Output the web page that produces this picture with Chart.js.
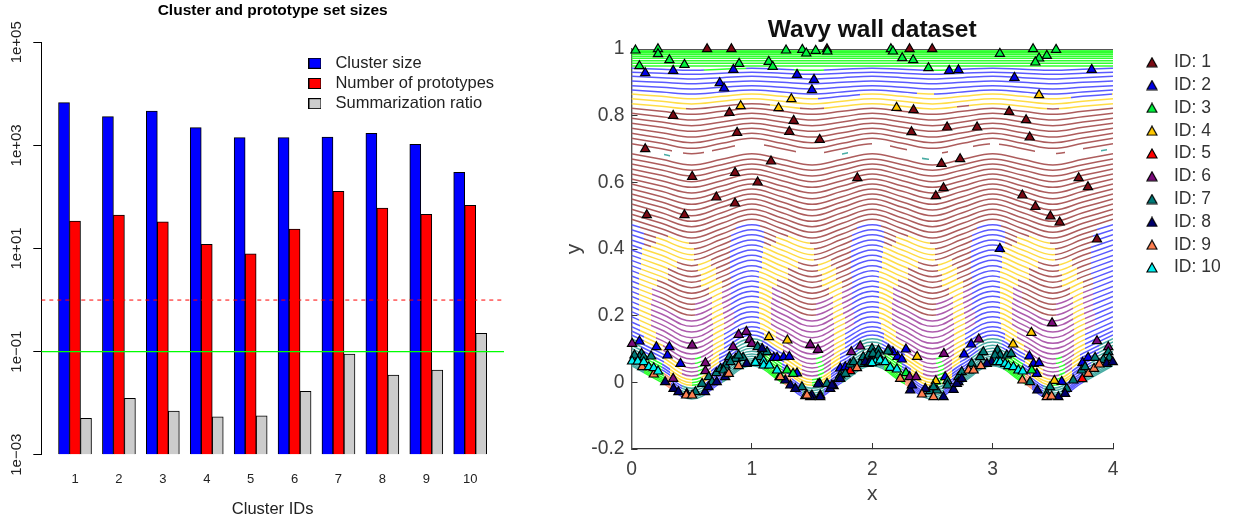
<!DOCTYPE html>
<html><head><meta charset="utf-8">
<script src="https://cdn.jsdelivr.net/npm/chart.js@4"></script>
<style>html,body{margin:0;padding:0;background:#fff;width:1233px;height:525px;overflow:hidden}
canvas{position:absolute;top:0}</style></head><body>
<canvas id="sizes" width="520" height="525" style="left:0"></canvas>
<canvas id="wavy" width="693" height="525" style="left:540px"></canvas>
<script>
// ---- left panel values
const clusterIds=[1,2,3,4,5,6,7,8,9,10];
const clusterSize=[6745,3612,4652,2208,1413,1413,1455,1714,1050,300];
const prototypes=[34,44.6,33,12,7.9,23.9,128,61,46,68.7];
const summarization=[0.00506,0.01236,0.00701,0.00545,0.0057,0.0169,0.0895,0.0351,0.0439,0.2254];
const barNames=["Cluster size","Number of prototypes","Summarization ratio"];
const barColours=["#0000ff","#ff0000","#cccccc"];
const logTicks=[0.001,0.1,10,1000,100000];
const logTickLabels=["1e\u221203","1e\u221201","1e+01","1e+03","1e+05"];
const dashedLevel=1, solidLevel=0.1;

// ---- right panel: contour rows read at x = 0, .25 ... 4
const rowX=[0,.25,.5,.75,1,1.25,1.5,1.75,2,2.25,2.5,2.75,3,3.25,3.5,3.75,4];
const flatRows=[1,.997,.993,.989,.984,.978,.972,.965,.957,.949];
const wavyRows=[
[.942,.939,.936,.939,.942,.939,.936,.939,.942,.939,.936,.939,.942,.939,.936,.939,.942],
[.93,.927,.924,.927,.93,.927,.924,.927,.93,.927,.924,.927,.93,.927,.924,.927,.93],
[.918,.914,.91,.914,.918,.914,.91,.914,.918,.914,.91,.914,.918,.914,.91,.914,.918],
[.904,.9,.896,.9,.904,.9,.896,.9,.904,.9,.896,.9,.904,.9,.896,.9,.904],
[.89,.885,.88,.885,.89,.885,.88,.885,.89,.885,.88,.885,.89,.885,.88,.885,.89],
[.877,.871,.865,.871,.877,.871,.865,.871,.877,.871,.865,.871,.877,.871,.865,.871,.877],
[.865,.858,.851,.858,.865,.858,.851,.858,.865,.858,.851,.858,.865,.858,.851,.858,.865],
[.851,.843,.835,.843,.851,.843,.835,.843,.851,.843,.835,.843,.851,.843,.835,.843,.851],
[.836,.828,.82,.828,.836,.828,.82,.828,.836,.828,.82,.828,.836,.828,.82,.828,.836],
[.822,.813,.804,.813,.822,.813,.804,.813,.822,.813,.804,.813,.822,.813,.804,.813,.822],
[.807,.797,.787,.797,.807,.797,.787,.797,.807,.797,.787,.797,.807,.797,.787,.797,.807],
[.792,.781,.77,.781,.792,.781,.77,.781,.792,.781,.77,.781,.792,.781,.77,.781,.792],
[.777,.765,.753,.765,.777,.765,.753,.765,.777,.765,.753,.765,.777,.765,.753,.765,.777],
[.762,.749,.736,.749,.762,.749,.736,.749,.762,.749,.736,.749,.762,.749,.736,.749,.762],
[.747,.733,.719,.733,.747,.733,.719,.733,.747,.733,.719,.733,.747,.733,.719,.733,.747],
[.732,.717,.702,.717,.732,.717,.702,.717,.732,.717,.702,.717,.732,.717,.702,.717,.732],
[.716,.701,.686,.701,.716,.701,.686,.701,.716,.701,.686,.701,.716,.701,.686,.701,.716],
[.701,.685,.669,.685,.701,.685,.669,.685,.701,.685,.669,.685,.701,.685,.669,.685,.701],
[.686,.669,.652,.669,.686,.669,.652,.669,.686,.669,.652,.669,.686,.669,.652,.669,.686],
[.67,.653,.636,.653,.67,.653,.636,.653,.67,.653,.636,.653,.67,.653,.636,.653,.67],
[.655,.637,.619,.637,.655,.637,.619,.637,.655,.637,.619,.637,.655,.637,.619,.637,.655],
[.64,.621,.602,.621,.64,.621,.602,.621,.64,.621,.602,.621,.64,.621,.602,.621,.64],
[.625,.605,.585,.605,.625,.605,.585,.605,.625,.605,.585,.605,.625,.605,.585,.605,.625],
[.61,.589,.568,.589,.61,.589,.568,.589,.61,.589,.568,.589,.61,.589,.568,.589,.61],
[.595,.573,.551,.573,.595,.573,.551,.573,.595,.573,.551,.573,.595,.573,.551,.573,.595],
[.58,.557,.534,.557,.58,.557,.534,.557,.58,.557,.534,.557,.58,.557,.534,.557,.58],
[.565,.541,.517,.541,.565,.541,.517,.541,.565,.541,.517,.541,.565,.541,.517,.541,.565],
[.55,.525,.5,.525,.55,.525,.5,.525,.55,.525,.5,.525,.55,.525,.5,.525,.55],
[.535,.509,.483,.509,.535,.509,.483,.509,.535,.509,.483,.509,.535,.509,.483,.509,.535],
[.519,.493,.467,.493,.519,.493,.467,.493,.519,.493,.467,.493,.519,.493,.467,.493,.519],
[.504,.477,.45,.477,.504,.477,.45,.477,.504,.477,.45,.477,.504,.477,.45,.477,.504],
[.489,.461,.433,.461,.489,.461,.433,.461,.489,.461,.433,.461,.489,.461,.433,.461,.489],
[.473,.445,.417,.445,.473,.445,.417,.445,.473,.445,.417,.445,.473,.445,.417,.445,.473],
[.458,.429,.4,.429,.458,.429,.4,.429,.458,.429,.4,.429,.458,.429,.4,.429,.458],
[.443,.413,.383,.413,.443,.413,.383,.413,.443,.413,.383,.413,.443,.413,.383,.413,.443],
[.427,.397,.367,.397,.427,.397,.367,.397,.427,.397,.367,.397,.427,.397,.367,.397,.427],
[.412,.381,.35,.381,.412,.381,.35,.381,.412,.381,.35,.381,.412,.381,.35,.381,.412],
[.397,.365,.333,.365,.397,.365,.333,.365,.397,.365,.333,.365,.397,.365,.333,.365,.397],
[.381,.349,.317,.349,.381,.349,.317,.349,.381,.349,.317,.349,.381,.349,.317,.349,.381],
[.366,.333,.3,.333,.366,.333,.3,.333,.366,.333,.3,.333,.366,.333,.3,.333,.366],
[.35,.317,.284,.317,.35,.317,.284,.317,.35,.317,.284,.317,.35,.317,.284,.317,.35],
[.335,.301,.267,.301,.335,.301,.267,.301,.335,.301,.267,.301,.335,.301,.267,.301,.335],
[.319,.285,.251,.285,.319,.285,.251,.285,.319,.285,.251,.285,.319,.285,.251,.285,.319],
[.304,.269,.234,.269,.304,.269,.234,.269,.304,.269,.234,.269,.304,.269,.234,.269,.304],
[.288,.253,.218,.253,.288,.253,.218,.253,.288,.253,.218,.253,.288,.253,.218,.253,.288],
[.273,.237,.201,.237,.273,.237,.201,.237,.273,.237,.201,.237,.273,.237,.201,.237,.273],
[.258,.221,.184,.221,.258,.221,.184,.221,.258,.221,.184,.221,.258,.221,.184,.221,.258],
[.242,.205,.168,.205,.242,.205,.168,.205,.242,.205,.168,.205,.242,.205,.168,.205,.242],
[.227,.189,.151,.189,.227,.189,.151,.189,.227,.189,.151,.189,.227,.189,.151,.189,.227],
[.212,.173,.134,.173,.212,.173,.134,.173,.212,.173,.134,.173,.212,.173,.134,.173,.212],
[.197,.157,.117,.157,.197,.157,.117,.157,.197,.157,.117,.157,.197,.157,.117,.157,.197],
[.181,.141,.101,.141,.181,.141,.101,.141,.181,.141,.101,.141,.181,.141,.101,.141,.181],
[.167,.126,.085,.126,.167,.126,.085,.126,.167,.126,.085,.126,.167,.126,.085,.126,.167],
[.154,.112,.07,.112,.154,.112,.07,.112,.154,.112,.07,.112,.154,.112,.07,.112,.154],
[.142,.099,.056,.099,.142,.099,.056,.099,.142,.099,.056,.099,.142,.099,.056,.099,.142],
[.131,.087,.043,.087,.131,.087,.043,.087,.131,.087,.043,.087,.131,.087,.043,.087,.131],
[.121,.076,.031,.076,.121,.076,.031,.076,.121,.076,.031,.076,.121,.076,.031,.076,.121],
[.111,.065,.019,.065,.111,.065,.019,.065,.111,.065,.019,.065,.111,.065,.019,.065,.111],
[.102,.055,.008,.055,.102,.055,.008,.055,.102,.055,.008,.055,.102,.055,.008,.055,.102],
[.093,.046,-.001,.046,.093,.046,-.001,.046,.093,.046,-.001,.046,.093,.046,-.001,.046,.093],
[.085,.038,-.009,.038,.085,.038,-.009,.038,.085,.038,-.009,.038,.085,.038,-.009,.038,.085],
[.078,.03,-.018,.03,.078,.03,-.018,.03,.078,.03,-.018,.03,.078,.03,-.018,.03,.078],
[.071,.023,-.025,.023,.071,.023,-.025,.023,.071,.023,-.025,.023,.071,.023,-.025,.023,.071],
[.065,.016,-.033,.016,.065,.016,-.033,.016,.065,.016,-.033,.016,.065,.016,-.033,.016,.065],
[.059,.01,-.039,.01,.059,.01,-.039,.01,.059,.01,-.039,.01,.059,.01,-.039,.01,.059],
[.054,.005,-.044,.005,.054,.005,-.044,.005,.054,.005,-.044,.005,.054,.005,-.044,.005,.054],
[.05,0,-.05,0,.05,0,-.05,0,.05,0,-.05,0,.05,0,-.05,0,.05]
];
// ---- prototype triangles
const id1=[[.628,1],[.83,1],[1.624,1],[.346,.8],[.813,.809],[.877,.749],[1.347,.785],[1.311,.752],[1.563,.728],[.114,.7],[1.159,.663],[.504,.617],[.86,.629],[1.048,.6],[1.876,.613],[.705,.555],[.86,.537],[.127,.502],[.44,.502],[2.31,1],[2.498,1],[2.343,.817],[3.137,.812],[3.278,.787],[2.622,.765],[2.871,.765],[2.326,.751],[3.308,.735],[2.73,.67],[2.575,.656],[3.715,.613],[3.792,.586],[2.592,.583],[2.528,.559],[3.247,.561],[3.355,.527],[3.48,.498],[3.557,.48],[3.867,.429]];
const id2=[[.114,.928],[.346,.935],[.846,.938],[1.375,.923],[1.516,.908],[1.499,.877],[.733,.898],[.769,.882],[2.639,.935],[2.716,.937],[3.823,.938],[3.181,.914],[3.06,.401],[.066,.123],[.207,.106],[.315,.106],[.299,.081],[.407,.056],[1.181,.074],[1.209,.074],[1.264,.076],[1.311,.077],[1.375,.027],[1.563,-.004],[1.679,-.011],[1.734,.042],[1.776,.046],[2.28,.099],[2.21,.077],[2.246,.069],[2.822,.114],[2.763,.084],[3.306,.078],[3.34,.056],[3.386,.058],[3.367,.026],[3.747,.059],[3.793,.074],[3.574,.002],[2.172,.091],[2.135,.098],[2.606,.016]];
const id3=[[.033,.996],[.22,1],[.22,.985],[.315,.967],[.44,.953],[.066,.949],[.894,.956],[1.14,.962],[1.173,.947],[1.284,.996],[1.419,.998],[1.452,.987],[1.53,.995],[1.627,.993],[2.155,1],[2.172,.993],[2.249,.973],[2.34,.967],[2.467,.943],[3.06,.986],[3.336,1],[3.527,.998],[3.45,.98],[3.386,.972],[3.355,.96],[1.292,.036],[1.342,.026],[2.28,.028],[3.325,.036]];
const id4=[[.907,.829],[1.222,.823],[1.328,.85],[3.386,.862],[2.202,.824],[1.142,.136],[1.295,.126],[3.17,.114],[3.322,.149],[2.373,.077],[2.528,.004],[3.513,.005]];
const id5=[[1.817,.034],[3.745,.01]];
const id6=[[.005,.116],[.504,.111],[.89,.143],[.954,.152],[.982,.128],[1,.116],[.844,.106],[1.485,.113],[1.549,.098],[.614,.058],[.614,.034],[.346,.011],[1.826,.091],[1.9,.108],[2.885,.129],[2.595,.086],[3.494,.178],[3.867,.124],[3.961,.106],[2.31,.016],[2.365,.016]];
const id7=[[.586,-.004],[.531,-.029],[.642,.016],[.705,.028],[.739,.041],[.78,.051],[.813,.076],[.863,.071],[.822,.061],[.927,.074],[1.048,.106],[1.085,.091],[1.126,.091],[1.07,.076],[.89,.081],[.766,.036],[.67,.001],[.083,.086],[.066,.076],[.102,.076],[.163,.078],[.025,.081],[1.416,-.014],[1.624,-.004],[1.734,.021],[1.72,.011],[1.776,.026],[1.817,.054],[1.845,.061],[1.9,.056],[1.925,.076],[1.97,.081],[1.998,.101],[2.052,.096],[2.006,.086],[2.052,.081],[2.13,.093],[2.481,-.026],[2.537,-.024],[2.509,-.014],[2.625,.004],[2.625,-.009],[2.716,.016],[2.744,.031],[2.826,.056],[2.896,.076],[2.923,.091],[3.04,.096],[3.062,.081],[3.02,.081],[3.118,.081],[3.154,.086],[3.311,.001],[3.477,-.014],[3.45,-.034],[3.616,-.019],[3.67,.006],[3.74,.036],[3.768,.046],[3.851,.074],[3.92,.068],[3.961,.091],[3.969,.074]];
const id8=[[.28,.001],[.349,-.019],[.39,-.029],[.459,-.034],[.611,-.029],[.639,-.014],[.708,.001],[.778,.016],[.957,.056],[1.027,.061],[1.085,.101],[1.23,.016],[1.278,.006],[1.32,-.009],[1.361,-.019],[1.499,-.039],[1.568,-.039],[1.651,-.019],[1.734,.011],[1.97,.056],[1.942,.061],[1.485,-.044],[1.568,-.044],[1.665,-.009],[1.55,-.006],[1.983,.061],[2.315,-.024],[2.33,-.009],[2.44,-.019],[2.592,-.044],[2.675,-.022],[2.716,.001],[2.703,-.004],[2.744,.011],[2.993,.061],[2.952,.056],[3.372,-.024],[3.546,-.044],[3.602,-.034],[3.948,.056],[3.998,.061]];
const id9=[[.089,.046],[.185,.024],[.454,-.039],[.504,-.039],[.89,.049],[.808,.026],[1.237,.016],[1.444,-.041],[1.458,-.039],[1.873,.043],[2.232,.011],[2.413,-.036],[2.509,-.044],[2.8,.036],[2.842,.036],[2.902,.049],[3.247,.006],[3.45,-.044],[3.49,-.042],[3.795,.026],[3.842,.041],[3.886,.054]];
const id10=[[.005,.063],[.052,.063],[.102,.061],[.144,.046],[.185,.043],[.221,.033],[1.029,.059],[1.098,.064],[1.098,.051],[1.145,.051],[1.209,.036],[2.025,.061],[1.998,.058],[2.066,.066],[2.108,.061],[2.149,.044],[2.205,.039],[3.035,.061],[3.062,.061],[3.104,.056],[3.131,.049],[3.173,.046],[3.214,.036],[3.25,.033]];
const idSets=[id1,id2,id3,id4,id5,id6,id7,id8,id9,id10];
const idNames=["ID: 1","ID: 2","ID: 3","ID: 4","ID: 5","ID: 6","ID: 7","ID: 8","ID: 9","ID: 10"];
const idColours=["#7b0a14","#0000e6","#00f03c","#ffc800","#ff0000","#7a0a7a","#007a78","#00006e","#ff7f50","#00f0f0"];

// ---- style tables
const FONT="'Liberation Sans', Arial, sans-serif";
const palette={b:"#5a5aff",y:"#ffdc46",n:"#ad5c5c",p:"#ad5cad",t:"#4aaca4",g:"#30ff30",c:"#ff9a78",k:"#555555",_:"rgba(255,255,255,0)"};
// colour runs along a row: key + end x; runs ending at 1 repeat each period
const rowBands=[[.9995,"k4"],[.944,"g4"],[.935,"b.6 g.95 b1.35 g1.6 b2.5 g2.7 b4"],[.875,"b4"],[.865,"b2.37 y2.51 b4"],[.85,"y1.55 b1.9 y3.65 b3.99 y4"],[.835,"y4"],[.82,"y.45 n1.15 y1.4 n1.6 y2.7 n2.8 y3.45 n3.55 y4"],[.71,"n4"],
[.695,"n.34 _.43 n.6 _.67 n.86 _1.1 n1.37 _1.6 n2 _2.15 n2.29 _2.58 n2.63 _2.84 n2.98 _3.05 n3.35 _3.53 n3.6 _3.75 n4"],
[.68,"_.27 t.32 _1.75 t1.8 _2.41 t2.47 _3.9 t3.95 _4"],[.46,"n4"],
[.44,"b.07 n.3 y.48 n.87 b1"],[.41,"b.1 n.2 y.52 n.83 b1"],[.39,"b.1 n.16 y.52 n.82 b1"],[.35,"b.09 y.38 n.55 y.66 n.82 b1"],[.31,"b.08 y.3 n.58 y.7 n.82 b1"],[.27,"b.06 y.21 n.64 y.75 n.83 b1"],[.23,"b.06 y.17 p.24 n.53 p.67 y.75 p.83 b1"],[.19,"b.06 y.16 p.67 y.76 p.83 b1"],[.15,"b.06 y.16 p.68 y.77 p.85 b1"],[.12,"b.07 y.2 p.68 y.77 b1"],[.09,"b.1 y.26 p.53 g.58 p.68 y.77 b1"],[.06,"t.08 b.27 y.42 p.55 g.6 p.66 y.73 b.88 t1"],[.035,"t.1 g.25 b.32 y.5 g.58 y.66 b.82 t1"],[-1,"t.1 g.27 c.33 b.42 t.6 b.75 t1"]];

function runsFor(level){return rowBands.find(b=>level>=b[0])[1];}
function rowStroke(c){
  const sx=c.chart.scales.x, a=sx&&sx.getPixelForValue(0), z=sx&&sx.getPixelForValue(4);
  if(!isFinite(a)||!isFinite(z)||z<=a) return palette.n;
  const g=c.chart.ctx.createLinearGradient(a,0,z,0);
  const t=c.dataset.runs.split(" ").map(s=>[s[0],parseFloat(s.slice(1))]);
  const periodic=t[t.length-1][1]===1, reps=periodic?4:1;
  for(let k=0;k<reps;k++){let s=0;for(const [key,e] of t){
    const col=palette[key];
    g.addColorStop(Math.min(1,(s+k)/4),col);g.addColorStop(Math.min(1,(e+k)/4),col);s=e;}}
  return g;
}
function icon(draw,w,h){const c=document.createElement("canvas");c.width=w;c.height=h;draw(c.getContext("2d"));return c;}
const triIcon=col=>icon(x=>{x.fillStyle=col;x.strokeStyle="#000";x.lineWidth=1.2;x.beginPath();x.moveTo(6,1);x.lineTo(11,10);x.lineTo(1,10);x.closePath();x.fill();x.stroke();},12,11);
const sqIcon=col=>icon(x=>{x.fillStyle=col;x.strokeStyle="#000";x.lineWidth=1;x.fillRect(.5,.5,12,10);x.strokeRect(.5,.5,12,10);},13,11);
const placeLegend=(lx,ty,rx,by)=>({id:"placeLegend",afterLayout(ch){const l=ch.legend;l.left=lx;l.top=ty;l.right=rx;l.bottom=by;}});
const setTicks=(vals)=>(s)=>{s.ticks=vals.map(v=>({value:v}));};

// ---- left chart
const xMin=.232,xMax=10.77;
const pts=a=>a.map((v,i)=>({x:clusterIds[i],y:v}));
const hline=v=>[{x:xMin,y:v},{x:xMax,y:v}];
new Chart(document.getElementById("sizes"),{
  type:"bar",
  data:{datasets:[
    {type:"line",label:"dashed",data:hline(dashedLevel),borderColor:"#ff0000",borderWidth:1,borderDash:[4,4],pointRadius:0,order:0},
    {type:"line",label:"solid",data:hline(solidLevel),borderColor:"#00ff00",borderWidth:1.2,pointRadius:0,order:0},
    ...[clusterSize,prototypes,summarization].map((v,i)=>({label:barNames[i],data:pts(v),backgroundColor:barColours[i],borderColor:"#000",borderWidth:1,barThickness:11,base:logTicks[0],order:1}))
  ]},
  options:{responsive:false,animation:false,events:[],
    layout:{padding:{right:16,left:0,top:0,bottom:0}},
    plugins:{
      title:{display:true,text:"Cluster and prototype set sizes",fullSize:false,color:"#000",font:{family:FONT,size:15.5,weight:"bold"},padding:{top:1,bottom:22.7}},
      tooltip:{enabled:false},
      legend:{position:"chartArea",align:"start",labels:{usePointStyle:true,pointStyleWidth:24.5,padding:3.7,color:"#222",font:{family:FONT,size:16.5},
        generateLabels:()=>barNames.map((t,i)=>({text:t,pointStyle:sqIcon(barColours[i]),fillStyle:barColours[i],strokeStyle:"#000",lineWidth:1,datasetIndex:i+2,fontColor:"#222"}))}}
    },
    scales:{
      x:{type:"linear",offset:false,min:xMin,max:xMax,border:{display:false},grid:{display:false,drawTicks:false},
        afterBuildTicks:setTicks(clusterIds),afterFit:s=>{s.height=70.3;},
        ticks:{autoSkip:false,maxRotation:0,padding:17,color:"#222",font:{family:FONT,size:13},callback:v=>String(v)},
        title:{display:true,text:"Cluster IDs",color:"#222",font:{family:FONT,size:16.5},padding:{top:0,bottom:6}}},
      y:{type:"logarithmic",min:logTicks[0],max:logTicks[4],border:{display:true,color:"#000",width:1},
        grid:{drawOnChartArea:false,drawTicks:true,tickLength:8,color:"#000"},
        afterBuildTicks:setTicks(logTicks),afterFit:s=>{s.width=41.3;},
        ticks:{autoSkip:false,minRotation:90,maxRotation:90,crossAlign:"center",padding:-4.7,color:"#222",font:{family:FONT,size:15},callback:(v,i)=>logTickLabels[i]}}
    }},
  plugins:[placeLegend(299,51.3,520,130)]
});

// ---- right chart
const rowSets=[
  ...flatRows.map(v=>({level:v,data:[{x:0,y:v},{x:4,y:v}]})),
  ...wavyRows.map(r=>({level:r[1],data:r.map((y,j)=>({x:rowX[j],y}))}))
].map(r=>({label:"row",data:r.data,runs:runsFor(r.level),showLine:true,pointRadius:0,tension:.4,borderWidth:r.level===1?2:1.5,borderCapStyle:"butt",borderColor:rowStroke,order:30}));
const triSets=idSets.map((a,i)=>({label:idNames[i],data:a.map(p=>({x:p[0],y:p[1]})),showLine:false,pointStyle:"triangle",pointRadius:5.3,pointBackgroundColor:idColours[i],pointBorderColor:"#000",pointBorderWidth:1.2,clip:false,order:20-i}));
new Chart(document.getElementById("wavy"),{
  type:"scatter",
  data:{datasets:[...triSets,...rowSets]},
  options:{responsive:false,animation:false,events:[],
    layout:{padding:{right:120,left:0,top:0,bottom:0}},
    plugins:{
      title:{display:true,text:"Wavy wall dataset",fullSize:false,color:"#111",font:{family:FONT,size:24.5,weight:"bold"},padding:{top:15.6,bottom:4}},
      tooltip:{enabled:false},
      legend:{position:"chartArea",align:"start",labels:{usePointStyle:true,pointStyleWidth:26.5,padding:5.3,color:"#333",font:{family:FONT,size:17.5},
        generateLabels:()=>idNames.map((t,i)=>({text:t,pointStyle:triIcon(idColours[i]),fillStyle:idColours[i],strokeStyle:"#000",lineWidth:1,datasetIndex:i,fontColor:"#333"}))}}
    },
    scales:{
      x:{type:"linear",min:0,max:4,border:{display:true,color:"#333",width:1.2},grid:{drawOnChartArea:false,drawTicks:true,tickLength:-6,color:"#333"},
        afterFit:s=>{s.height=76;},
        ticks:{stepSize:1,maxRotation:0,padding:15,color:"#404040",font:{family:FONT,size:19.3}},
        title:{display:true,text:"x",color:"#404040",font:{family:FONT,size:21},padding:{top:0,bottom:18}}},
      y:{type:"linear",min:-.2,max:1,border:{display:true,color:"#555",width:1.4},grid:{drawOnChartArea:false,drawTicks:true,tickLength:-6,color:"#333"},
        afterFit:s=>{s.width=91.5;},
        ticks:{stepSize:.2,padding:13,color:"#404040",font:{family:FONT,size:19.3},callback:v=>Math.abs(v)<1e-9?"0":String(+v.toFixed(1))},
        title:{display:true,text:"y",color:"#404040",font:{family:FONT,size:21},padding:{top:21.4,bottom:0}}}
    }},
  plugins:[placeLegend(593.45,48.25,693,300)]
});
</script></body></html>
